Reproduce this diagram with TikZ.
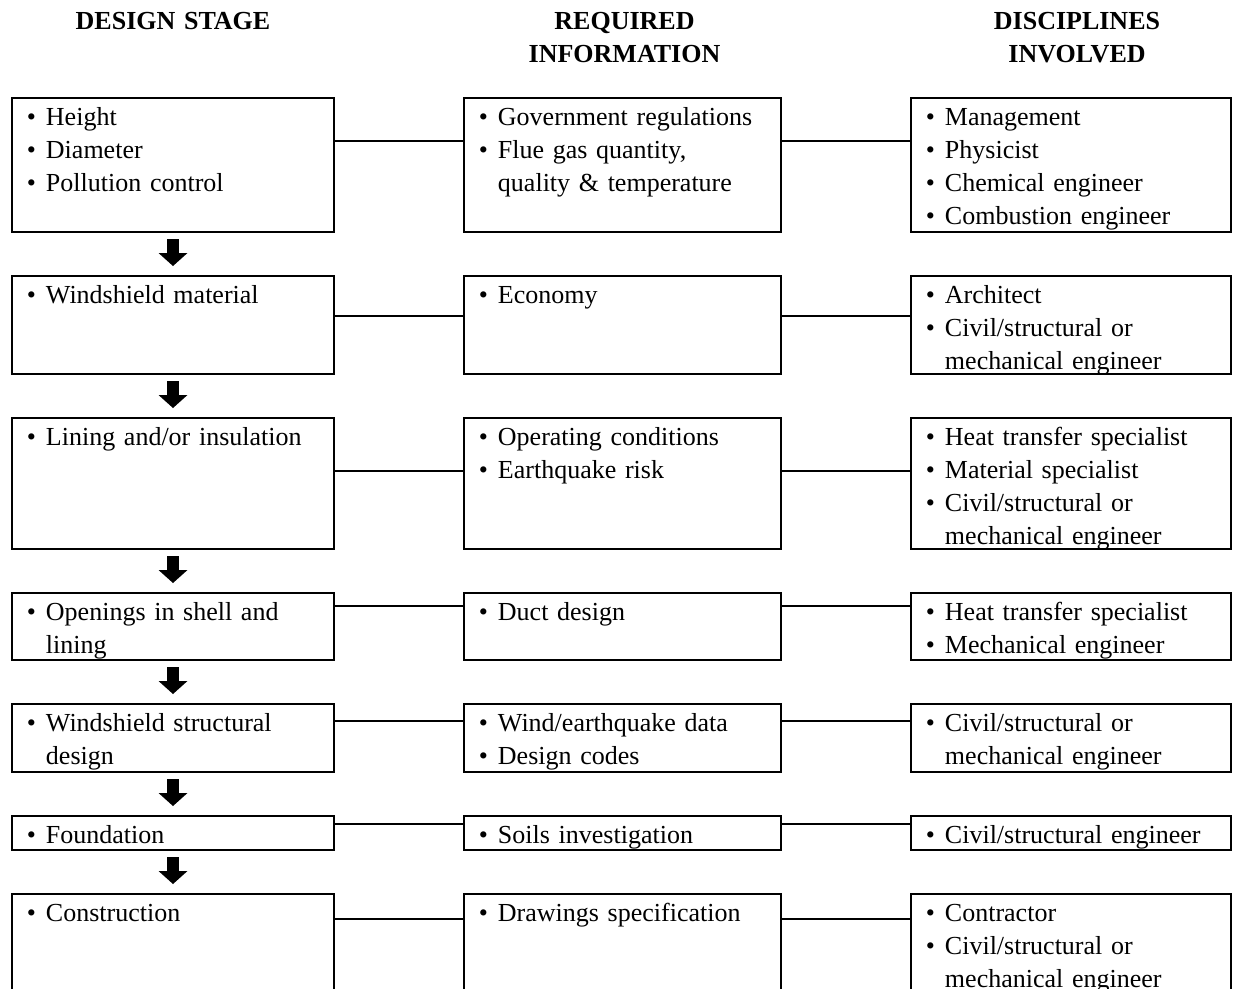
\documentclass[tikz,border=0pt]{standalone}
\usepackage{fontspec}
\setmainfont{Liberation Serif}
\usetikzlibrary{matrix,arrows.meta}
\newcommand{\itm}[1]{\parskip=0pt\relax\noindent\hangindent=14.25pt\hangafter=1\relax\makebox[14.25pt][l]{\textbullet}#1\par}

\tikzset{
  cell/.style={draw, line width=1.5pt, outer sep=0pt, inner xsep=11.25pt, inner ysep=0pt,
    align=left, font=\fontsize{19.5}{24.75}\selectfont, text height=20.25pt},
  head/.style={font=\fontsize{19.5}{24.75}\selectfont\bfseries, align=center,
    text width=240pt, anchor=base},
  link/.style={line width=1pt},
  flow/.style={line width=9pt, -{Triangle[width=21.75pt,length=9.75pt,line width=0pt]},
    shorten <=5.25pt, shorten >=7.5pt}
}

\begin{document}
\begin{tikzpicture}[x=0.75pt,y=-0.75pt]
\useasboundingbox (0,0) rectangle (1233,989);
\matrix (m) [matrix of nodes,nodes={cell},inner sep=0pt,outer sep=0pt,
  column sep=96pt,row sep=31.5pt,anchor=north west,
  column 1/.style={nodes={text width=219pt}},
  column 2/.style={nodes={text width=215.25pt}},
  column 3/.style={nodes={text width=217.5pt}},
  row 1/.style={nodes={text depth=80.25pt}},
  row 2/.style={nodes={text depth=53.25pt}},
  row 3/.style={nodes={text depth=78pt}},
  row 4/.style={nodes={text depth=30pt}},
  row 5/.style={nodes={text depth=30.75pt}},
  row 6/.style={nodes={text depth=5.25pt}},
  row 7/.style={nodes={text depth=90pt}}] at (11,97)
{ \itm{Height}\itm{Diameter}\itm{Pollution control}
  & \itm{Government regulations}\itm{Flue gas quantity,\newline quality \& temperature}
  & \itm{Management}\itm{Physicist}\itm{Chemical engineer}\itm{Combustion engineer} \\
  \itm{Windshield material}
  & \itm{Economy}
  & \itm{Architect}\itm{Civil/structural or\newline mechanical engineer} \\
  \itm{Lining and/or insulation}
  & \itm{Operating conditions}\itm{Earthquake risk}
  & \itm{Heat transfer specialist}\itm{Material specialist}\itm{Civil/structural or\newline mechanical engineer} \\
  \itm{Openings in shell and\newline lining}
  & \itm{Duct design}
  & \itm{Heat transfer specialist}\itm{Mechanical engineer} \\
  \itm{Windshield structural\newline design}
  & \itm{Wind/earthquake data}\itm{Design codes}
  & \itm{Civil/structural or\newline mechanical engineer} \\
  \itm{Foundation}
  & \itm{Soils investigation}
  & \itm{Civil/structural engineer} \\
  \itm{Construction}
  & \itm{Drawings specification}
  & \itm{Contractor}\itm{Civil/structural or\newline mechanical engineer} \\
} ;

\node [head] (h1) at (m-1-1.north |- 0,29) {DESIGN STAGE};
\node [head,xshift=1.5pt] (h2) at (m-1-2.north |- 0,29) {REQUIRED\\INFORMATION};
\node [head,xshift=4.5pt] (h3) at (m-1-3.north |- 0,29) {DISCIPLINES\\INVOLVED};

\path [link]

([yshift=-32.25pt]m-1-1.north east) edge ([yshift=-32.25pt]m-1-2.north west)
([yshift=-32.25pt]m-1-2.north east) edge ([yshift=-32.25pt]m-1-3.north west)

([yshift=-30pt]m-2-1.north east) edge ([yshift=-30pt]m-2-2.north west)
([yshift=-30pt]m-2-2.north east) edge ([yshift=-30pt]m-2-3.north west)

([yshift=-39.75pt]m-3-1.north east) edge ([yshift=-39.75pt]m-3-2.north west)
([yshift=-39.75pt]m-3-2.north east) edge ([yshift=-39.75pt]m-3-3.north west)

([yshift=-9.75pt]m-4-1.north east) edge ([yshift=-9.75pt]m-4-2.north west)
([yshift=-9.75pt]m-4-2.north east) edge ([yshift=-9.75pt]m-4-3.north west)

([yshift=-12.75pt]m-5-1.north east) edge ([yshift=-12.75pt]m-5-2.north west)
([yshift=-12.75pt]m-5-2.north east) edge ([yshift=-12.75pt]m-5-3.north west)

([yshift=-6pt]m-6-1.north east) edge ([yshift=-6pt]m-6-2.north west)
([yshift=-6pt]m-6-2.north east) edge ([yshift=-6pt]m-6-3.north west)

([yshift=-18.75pt]m-7-1.north east) edge ([yshift=-18.75pt]m-7-2.north west)
([yshift=-18.75pt]m-7-2.north east) edge ([yshift=-18.75pt]m-7-3.north west)

;

\path [flow]
(m-1-1) edge (m-2-1)
(m-2-1) edge (m-3-1)
(m-3-1) edge (m-4-1)
(m-4-1) edge (m-5-1)
(m-5-1) edge (m-6-1)
(m-6-1) edge (m-7-1)
;
\end{tikzpicture}
\end{document}
